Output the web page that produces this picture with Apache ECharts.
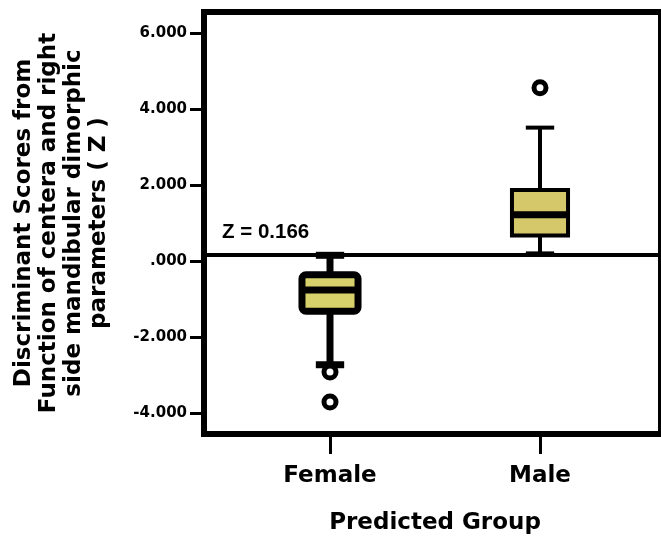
<!DOCTYPE html>
<html>
<head>
<meta charset="utf-8">
<script src="https://cdn.jsdelivr.net/npm/echarts@6/dist/echarts.min.js"></script>
<style>
  html, body { margin: 0; padding: 0; background: #fff; }
  #chart { width: 661px; height: 540px; }
</style>
</head>
<body>
<div id="chart"></div>
<script>
// data
const groups = ['Female', 'Male'];
const whiskerLow = [-2.73, 0.20];
const quart1 = [-1.32, 0.67];
const medians = [-0.76, 1.22];
const quart3 = [-0.365, 1.87];
const whiskerHigh = [0.15, 3.51];
const outlierGroup = ['Female', 'Female', 'Male'];
const outlierValue = [-2.92, -3.71, 4.56];
const cutoff = 0.166;
const yTickValues = [-4, -2, 0, 2, 4, 6];

const FONT = 'DejaVu Sans';

// per-box drawing style (female box is drawn heavier in the original)
const boxLine = [7, 4];
const boxFill = ['#d6d16b', '#d4c86a'];

const boxData = groups.map(function (g, i) {
    return [i, whiskerLow[i], quart1[i], medians[i], quart3[i], whiskerHigh[i]];
});
const outlierData = outlierValue.map(function (v, i) {
    return [outlierGroup[i], v];
});

function renderBox(params, api) {
    const i = api.value(0);
    const low = api.coord([i, api.value(1)]);
    const q1 = api.coord([i, api.value(2)]);
    const med = api.coord([i, api.value(3)]);
    const q3 = api.coord([i, api.value(4)]);
    const high = api.coord([i, api.value(5)]);
    const band = api.size([1, 0])[0];
    const bw = band * 0.267;
    const cw = band * 0.135;
    const lw = boxLine[params.dataIndex];
    const cx = q1[0];
    const stroke = { stroke: '#000', lineWidth: lw };
    return {
        type: 'group',
        children: [
            { type: 'line', shape: { x1: cx, y1: high[1], x2: cx, y2: q3[1] }, style: stroke },
            { type: 'line', shape: { x1: cx, y1: q1[1], x2: cx, y2: low[1] }, style: stroke },
            { type: 'line', shape: { x1: cx - cw / 2, y1: high[1], x2: cx + cw / 2, y2: high[1] }, style: stroke },
            { type: 'line', shape: { x1: cx - cw / 2, y1: low[1], x2: cx + cw / 2, y2: low[1] }, style: stroke },
            {
                type: 'rect',
                shape: { x: cx - bw / 2, y: q3[1], width: bw, height: q1[1] - q3[1], r: params.dataIndex === 0 ? 4 : 0 },
                style: { fill: boxFill[params.dataIndex], stroke: '#000', lineWidth: lw }
            },
            { type: 'line', shape: { x1: cx - bw / 2, y1: med[1], x2: cx + bw / 2, y2: med[1] }, style: { stroke: '#000', lineWidth: 7 } }
        ]
    };
}

const chart = echarts.init(document.getElementById('chart'), null, { renderer: 'canvas' });

chart.setOption({
    animation: false,
    backgroundColor: '#fff',
    grid: [
        { left: 204, top: 12, right: -20, bottom: 106, show: true, borderColor: '#000', borderWidth: 6 },
        { left: 225, right: 16, top: 33, bottom: 126 }
    ],
    xAxis: [
        { gridIndex: 0, type: 'value', min: 0, max: 1, show: false },
        {
            gridIndex: 1,
            type: 'category',
            data: groups,
            offset: 20,
            axisLine: { show: false, onZero: false },
            axisTick: { show: true, alignWithLabel: true, length: 21, lineStyle: { color: '#000', width: 3 } },
            axisLabel: { margin: 32, color: '#000', fontFamily: FONT, fontWeight: 'bold', fontSize: 23 },
            name: 'Predicted Group',
            nameLocation: 'middle',
            nameGap: 79,
            nameTextStyle: { color: '#000', fontFamily: FONT, fontWeight: 'bold', fontSize: 23 }
        }
    ],
    yAxis: [
        { gridIndex: 0, type: 'value', min: -4.525, max: 6.551, show: false },
        {
            gridIndex: 1,
            type: 'value',
            min: yTickValues[0],
            max: yTickValues[yTickValues.length - 1],
            interval: 2,
            offset: 21,
            axisLine: { show: false },
            splitLine: { show: false },
            axisTick: { show: true, length: 14, lineStyle: { color: '#000', width: 3 } },
            axisLabel: {
                margin: 17,
                color: '#000',
                fontFamily: FONT,
                fontWeight: 'bold',
                fontSize: 15,
                formatter: function (v) { return v === 0 ? '.000' : v.toFixed(3); }
            },
            name: 'Discriminant Scores from\nFunction of centera and right\nside mandibular dimorphic\nparameters ( Z )',
            nameLocation: 'middle',
            nameRotate: 90,
            nameGap: 92,
            nameTextStyle: { color: '#000', fontFamily: FONT, fontWeight: 'bold', fontSize: 23, lineHeight: 25 }
        }
    ],
    series: [
        {
            type: 'line',
            xAxisIndex: 0,
            yAxisIndex: 0,
            data: [],
            markLine: {
                silent: true,
                symbol: 'none',
                lineStyle: { color: '#000', width: 4, type: 'solid' },
                label: {
                    position: 'insideStartTop',
                    distance: [18, 12],
                    formatter: 'Z = ' + cutoff.toFixed(3),
                    color: '#000',
                    fontFamily: 'Liberation Sans',
                    fontWeight: 'bold',
                    fontSize: 20.5
                },
                data: [{ yAxis: cutoff }]
            }
        },
        {
            type: 'custom',
            xAxisIndex: 1,
            yAxisIndex: 1,
            renderItem: renderBox,
            encode: { x: 0, y: [1, 2, 3, 4, 5] },
            data: boxData,
            z: 3
        },
        {
            type: 'scatter',
            xAxisIndex: 1,
            yAxisIndex: 1,
            symbol: 'circle',
            symbolSize: 12,
            itemStyle: { color: '#fff', borderColor: '#000', borderWidth: 5, opacity: 1 },
            data: outlierData,
            z: 4
        }
    ]
});
</script>
</body>
</html>
